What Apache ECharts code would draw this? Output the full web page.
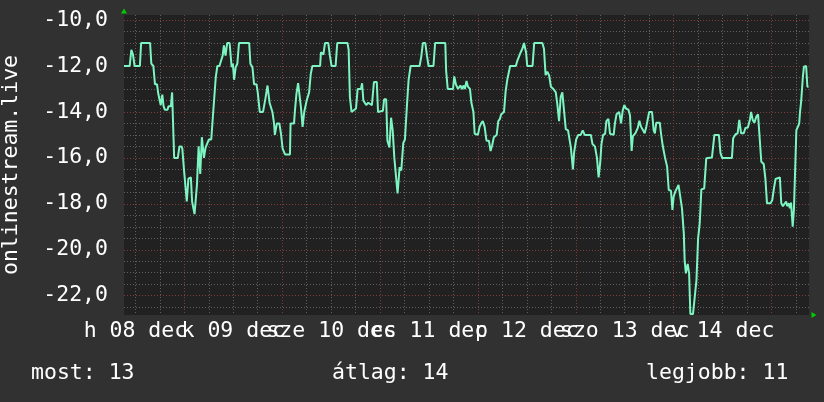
<!DOCTYPE html>
<html><head><meta charset="utf-8">
<script src="https://cdn.jsdelivr.net/npm/echarts@6/dist/echarts.min.js"></script>
<style>html,body{margin:0;padding:0;background:#313131;}#c{width:824px;height:402px;}</style>
</head><body><div id="c"></div>
<script>
// time in hours since 08 dec 00:00
const hours = [
9.2,10.6,11.0,11.4,11.8,13.1,13.4,15.6,15.9,16.4,16.8,17.3,17.6,18.2,18.6,18.9,19.2,19.9,20.1,20.7,
21.0,21.1,21.5,22.4,22.8,23.3,23.5,24.0,24.6,25.0,25.6,25.9,26.5,26.7,27.1,27.5,27.9,28.3,28.8,29.2,
30.0,30.6,31.0,31.3,31.7,32.1,32.6,33.4,33.7,34.1,34.5,35.1,35.6,35.9,36.2,36.6,37.0,37.4,39.9,40.2,
40.7,41.1,41.7,42.0,42.5,43.3,43.9,44.4,44.9,45.6,46.0,46.2,46.7,47.3,47.7,48.1,48.7,49.9,50.05,50.9,
51.1,51.5,51.9,52.35,52.6,53.0,53.4,54.0,54.6,55.0,55.4,57.3,57.5,58.1,58.5,59.3,59.7,60.1,61.1,61.5,
64.0,64.3,64.6,65.0,66.1,66.5,67.3,67.6,67.9,68.6,69.1,70.0,70.5,71.2,71.5,72.7,73.0,73.5,73.8,74.3,
74.7,75.1,75.5,75.9,76.3,76.8,77.2,77.7,78.1,78.6,79.0,79.5,81.7,82.1,82.5,83.1,83.5,83.9,85.1,85.5,
88.0,88.2,88.6,89.9,90.2,90.6,91.1,91.7,92.1,92.5,92.8,93.2,93.55,94.05,94.4,94.9,95.2,96.0,96.4,96.8,
97.2,97.65,98.1,98.7,99.1,99.5,99.9,100.6,101.0,101.4,101.7,102.4,102.8,103.2,103.9,105.3,105.7,106.1,106.5,106.9,
107.3,107.8,108.1,109.4,109.8,111.8,112.2,112.6,113.0,113.45,113.9,114.5,115.1,115.5,115.9,116.3,116.7,117.1,117.55,118.1,
118.8,119.3,119.6,120.1,120.6,121.2,121.7,122.2,123.7,124.1,124.7,125.2,125.6,126.0,126.3,126.7,127.2,127.5,128.0,128.4,
129.3,129.6,130.0,130.65,131.1,131.5,131.9,132.3,132.9,133.3,133.7,134.0,134.6,135.2,135.6,136.0,136.5,136.9,137.3,137.6,
138.0,138.7,139.1,139.4,139.75,140.6,140.9,141.3,141.9,142.4,142.8,143.35,143.7,144.0,144.4,145.2,145.6,146.05,146.5,146.7,
147.0,147.45,147.8,148.1,148.75,149.1,149.6,150.0,150.4,150.8,151.5,152.0,153.4,154.0,155.1,155.5,155.9,158.3,158.6,159.2,
159.7,160.1,160.55,161.2,161.6,162.2,162.7,163.0,163.4,163.8,164.3,164.7,165.1,165.5,166.1,166.5,166.9,167.75,168.2,168.6,
169.0,170.05,170.4,170.8,171.2,171.6,171.85,172.3,172.5,172.8,173.2,173.5,173.8,174.1,174.5,174.8,175.0,175.3,175.7,175.96,
176.5,176.8,177.1
];
const values = [
-12.0,-12.0,-11.3,-11.5,-12.0,-12.0,-11.0,-11.0,-11.9,-12.0,-12.8,-12.8,-13.2,-13.7,-13.25,-13.75,-13.9,-13.9,-13.75,-13.75,
-13.15,-13.15,-16.0,-16.0,-15.5,-15.5,-15.6,-16.7,-17.9,-16.9,-16.85,-17.9,-18.45,-18.45,-17.15,-15.5,-16.7,-15.1,-16.0,-15.55,
-15.2,-15.2,-14.2,-14.2,-12.5,-12.0,-12.0,-11.55,-11.1,-11.55,-11.0,-11.0,-12.05,-11.9,-12.6,-12.05,-11.9,-11.0,-11.0,-11.9,
-12.05,-12.8,-12.8,-13.15,-14.0,-14.0,-13.4,-12.85,-13.6,-14.0,-14.5,-15.0,-14.5,-14.5,-14.95,-15.6,-15.85,-15.85,-14.5,-14.5,
-14.0,-13.2,-12.75,-12.8,-13.8,-14.65,-14.0,-13.5,-13.15,-12.35,-12.0,-12.0,-11.4,-11.5,-11.0,-11.0,-11.55,-12.0,-12.0,-11.0,
-11.0,-11.3,-13.35,-14.0,-13.85,-13.0,-13.0,-12.75,-13.5,-13.7,-13.6,-13.7,-12.7,-12.7,-14.0,-13.95,-13.45,-13.45,-15.25,-15.55,
-14.25,-14.8,-16.0,-16.05,-17.55,-16.4,-16.55,-15.35,-15.2,-13.7,-12.6,-12.0,-12.0,-11.6,-11.0,-11.0,-11.55,-12.0,-12.0,-11.0,
-11.0,-12.2,-13.0,-13.0,-12.45,-12.8,-13.0,-12.85,-13.0,-12.85,-13.0,-12.65,-12.9,-13.0,-13.6,-14.0,-14.95,-15.0,-14.65,-14.5,
-14.4,-14.65,-15.25,-15.25,-15.7,-15.45,-15.1,-15.0,-14.4,-14.3,-14.1,-14.0,-13.1,-12.6,-12.0,-12.0,-11.75,-11.8,-11.4,-11.25,
-11.0,-11.4,-12.0,-12.0,-11.0,-11.0,-11.25,-12.4,-12.25,-12.4,-12.9,-13.0,-13.15,-13.7,-14.4,-13.35,-13.15,-13.2,-14.75,-14.8,
-15.55,-16.5,-15.75,-15.2,-15.0,-15.0,-14.8,-15.0,-15.0,-15.4,-15.5,-16.0,-16.85,-16.2,-15.4,-15.0,-14.95,-14.4,-14.3,-14.95,
-15.0,-14.5,-14.1,-14.0,-14.5,-13.95,-13.7,-13.85,-13.9,-14.15,-15.7,-15.05,-14.93,-14.7,-14.38,-14.64,-14.8,-14.93,-14.64,-14.57,
-14.0,-14.0,-14.79,-14.93,-14.47,-14.47,-14.93,-15.44,-16.0,-16.38,-17.4,-17.43,-18.27,-17.69,-17.47,-17.18,-17.11,-18.2,-19.3,-20.45,
-21.03,-20.62,-21.03,-22.8,-22.8,-22.19,-21.32,-19.5,-18.85,-17.37,-17.33,-16.02,-15.98,-15.0,-15.0,-15.8,-16.0,-16.0,-15.15,-14.97,
-14.93,-14.35,-14.93,-14.93,-14.7,-14.68,-14.35,-14.0,-14.35,-14.47,-14.2,-14.1,-14.06,-16.17,-16.27,-16.9,-17.98,-17.98,-17.83,-17.33,
-16.92,-16.85,-17.98,-18.1,-18.15,-17.9,-18.1,-17.98,-18.2,-17.95,-18.99,-18.27,-18.2,-14.79,-14.64,-14.5,-14.0,-13.5,-12.47,-12.03,
-12.0,-12.9,-12.9
];
const yMajorTicks = [-22,-20,-18,-16,-14,-12,-10];
const yMinorTicks = [-22.5,-21.5,-21,-20.5,-19.5,-19,-18.5,-17.5,-17,-16.5,-15.5,-15,-14.5,-13.5,-13,-12.5,-11.5,-11,-10.5];
const midnights = [24,48,72,96,120,144,168];
const sixHourMarks = [12,18,30,36,42,54,60,66,78,84,90,102,108,114,126,132,138,150,156,162,174];
const noons = [12,36,60,84,108,132,156];
const dayLabels = ['h 08 dec','k 09 dec','sze 10 dec','cs 11 dec','p 12 dec','szo 13 dec','v 14 dec'];
const footerLabels = ['most: 13','átlag: 14','legjobb: 11'];
const yName = 'onlinestream.live';

const FONT = 'DejaVu Sans Mono';
const FS = 21.5;
const fmt = v => v.toFixed(1).replace('.', ',');
const chart = echarts.init(document.getElementById('c'), null, {renderer:'canvas'});
const XMIN = 9.2, XMAX = 177.2, YMIN = -22.84, YMAX = -9.78;
// empty sentinel labels at the axis ends so that no day label is treated as min/max label
const labelValues = [XMIN].concat(noons, [XMAX]);
const majorGrid = {color:'#7e3c3c', type:[1,2], width:1};
const minorGrid = {color:'#606060', type:[1,2], width:1};
chart.setOption({
  backgroundColor:'#313131',
  animation:false,
  textStyle:{fontFamily:FONT},
  grid:{left:124, right:15, top:15, bottom:87, show:true, backgroundColor:'#212121', borderWidth:0,
        containLabel:false, outerBoundsMode:'none'},
  xAxis:[
    {type:'value', min:XMIN, max:XMAX, position:'bottom',
     axisLine:{show:true, lineStyle:{color:'#00cc00', width:0}, symbol:['none','triangle'], symbolSize:[6,5], symbolOffset:[0,5]},
     axisTick:{show:false, customValues:midnights},
     axisLabel:{customValues:labelValues, formatter:v => { const i = noons.indexOf(v); return i >= 0 ? dayLabels[i] : ''; },
       color:'#ffffff', fontSize:FS, fontFamily:FONT, margin:5, hideOverlap:false},
     splitLine:{show:true, lineStyle:majorGrid}},
    {type:'value', min:XMIN, max:XMAX, position:'top',
     axisLine:{show:false}, axisTick:{show:false, customValues:sixHourMarks}, axisLabel:{show:false},
     splitLine:{show:true, lineStyle:minorGrid}}
  ],
  yAxis:[
    {type:'value', min:YMIN, max:YMAX, position:'left',
     name:yName, nameLocation:'middle', nameRotate:90, nameGap:102,
     nameTextStyle:{color:'#ffffff', fontSize:FS, fontFamily:FONT},
     axisLine:{show:true, lineStyle:{color:'#00cc00', width:0}, symbol:['none','triangle'], symbolSize:[6,5], symbolOffset:[0,4]},
     axisTick:{show:false, customValues:yMajorTicks},
     axisLabel:{customValues:yMajorTicks, formatter:fmt, color:'#ffffff', fontSize:FS, fontFamily:FONT, margin:16,
       showMinLabel:true, showMaxLabel:true},
     splitLine:{show:true, lineStyle:majorGrid}},
    {type:'value', min:YMIN, max:YMAX, position:'right',
     axisLine:{show:false}, axisTick:{show:false, customValues:yMinorTicks}, axisLabel:{show:false},
     splitLine:{show:true, lineStyle:minorGrid}}
  ],
  graphic:[
    {type:'text', left:31, top:362, style:{text:footerLabels[0], fill:'#ffffff', fontSize:FS, fontFamily:FONT}},
    {type:'text', left:332, top:362, style:{text:footerLabels[1], fill:'#ffffff', fontSize:FS, fontFamily:FONT}},
    {type:'text', left:646, top:362, style:{text:footerLabels[2], fill:'#ffffff', fontSize:FS, fontFamily:FONT}}
  ],
  series:[{
    type:'line', xAxisIndex:0, yAxisIndex:0,
    data:hours.map((h,i) => [h, values[i]]),
    showSymbol:false, symbol:'none',
    lineStyle:{color:'#7df5c2', width:2},
    clip:true, z:5
  }]
});
</script></body></html>
